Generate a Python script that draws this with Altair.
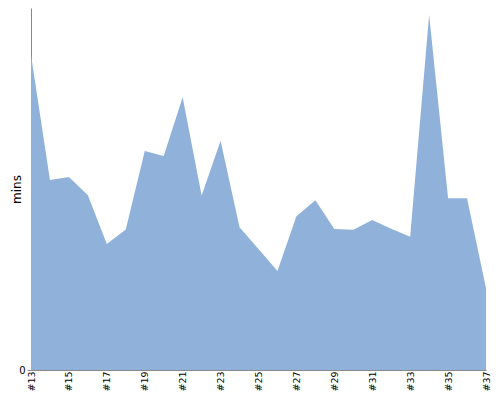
import altair as alt
import pandas as pd

races = ["#13", "#14", "#15", "#16", "#17", "#18", "#19", "#20", "#21", "#22",
         "#23", "#24", "#25", "#26", "#27", "#28", "#29", "#30", "#31", "#32",
         "#33", "#34", "#35", "#36", "#37"]
mins = [84.7, 51.1, 51.9, 47.0, 33.9, 37.8, 58.9, 57.5, 73.3, 46.9,
        61.6, 38.4, 32.5, 26.6, 41.3, 45.6, 37.9, 37.7, 40.3, 38.0,
        35.8, 95.5, 46.2, 46.2, 22.0]
x_labels = ["#13", "#15", "#17", "#19", "#21", "#23", "#25", "#27", "#29",
            "#31", "#33", "#35", "#37"]
y_labels = [0]

df = pd.DataFrame({"race": races, "mins": mins})

FONT = "DejaVu Sans"

chart = alt.Chart(df).mark_area(color="#90B2DA", opacity=1).encode(
    x=alt.X("race:O", sort=races, title=None,
            scale=alt.Scale(type="point", padding=0),
            axis=alt.Axis(values=x_labels, labelAngle=-90, ticks=False,
                          labelPadding=1, labelFontSize=9.5, domainColor="#888",
                          labelColor="#000", grid=False, labelFont=FONT)),
    y=alt.Y("mins:Q", title="mins",
            scale=alt.Scale(domain=[0, 97.31], nice=False),
            axis=alt.Axis(values=y_labels, grid=False, tickSize=4, labelPadding=2,
                          labelFontSize=10, domainColor="#888", tickColor="#888",
                          titleFontWeight="normal", titleFontSize=12,
                          titleFont=FONT, labelFont=FONT,
                          titleColor="#000", labelColor="#000", titleX=-8)),
).properties(
    width=455, height=362,
    autosize=alt.AutoSizeParams(type="none"),
    padding={"left": 23, "top": 0, "right": 6, "bottom": 22},
).configure_view(stroke=None)

chart.save("out.html", embed_options={"renderer": "svg", "actions": False})
